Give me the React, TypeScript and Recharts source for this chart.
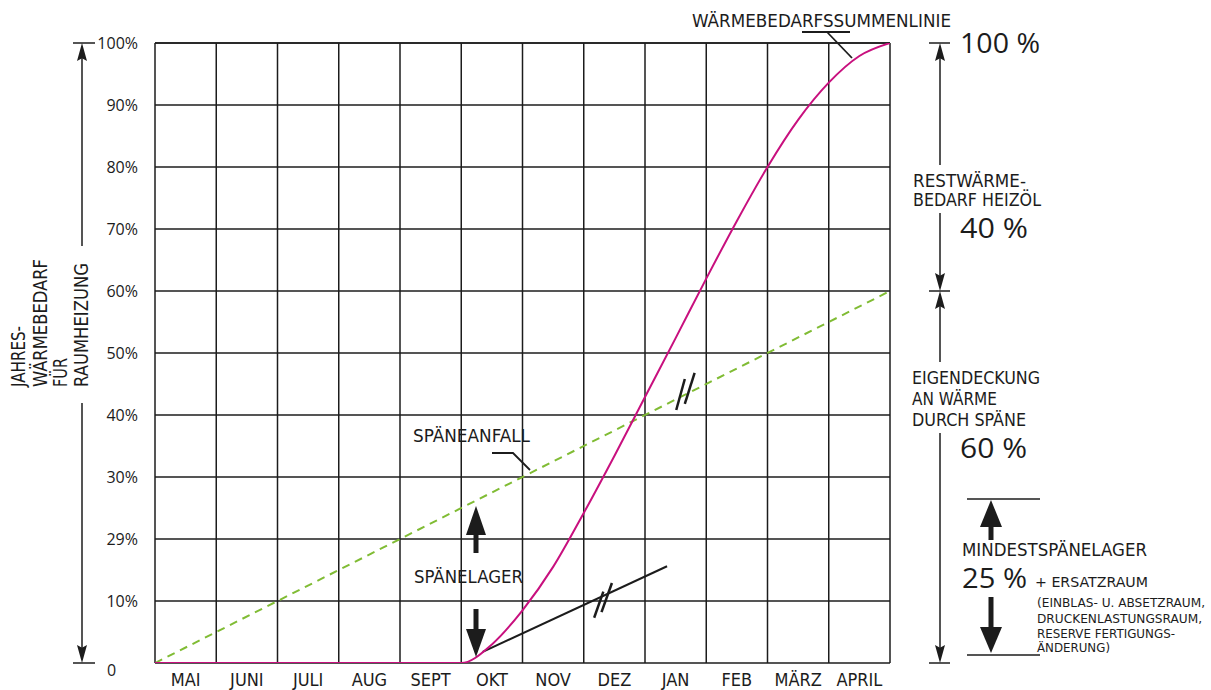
import React from "react";
import { LineChart, Line, XAxis, YAxis, CartesianGrid, ReferenceLine } from "recharts";

// ---------- data ----------
const months = ["MAI", "JUNI", "JULI", "AUG", "SEPT", "OKT", "NOV", "DEZ", "JAN", "FEB", "MÄRZ", "APRIL"];
const monthBoundaries = [0, 1, 2, 3, 4, 5, 6, 7, 8, 9, 10, 11, 12];
const monthCenters = [0.5, 1.5, 2.5, 3.5, 4.5, 5.5, 6.5, 7.5, 8.5, 9.5, 10.5, 11.5];
const yTickValues = [0, 10, 20, 30, 40, 50, 60, 70, 80, 90, 100];
const yTickLabels = ["0", "10%", "29%", "30%", "40%", "50%", "60%", "70%", "80%", "90%", "100%"];

// Wärmebedarfssummenlinie (cumulative heat demand, %)
const heatX = [0, 1, 2, 3, 4, 5, 5.5, 6, 6.5, 7, 7.5, 8, 8.5, 9, 9.5, 10, 10.5, 11, 11.5, 12];
const heatY = [0, 0, 0, 0, 0, 0, 3.0, 8.5, 15.5, 24.2, 33.4, 42.9, 52.4, 62, 71.3, 80, 87.6, 93.6, 97.9, 100];

// Späneanfall (chip yield, %)
const chipX = [0, 12];
const chipY = [0, 60];

// Späneverbrauch ab Oktober (tangent line)
const tangentX = [5.35, 8.36];
const tangentY = [1.8, 15.6];

// "//" marks (break symbols)
const slashTangent = [
  [[7.17, 7.3], [7.32, 11.5]],
  [[7.29, 8.2], [7.46, 12.9]],
];
const slashChip = [
  [[8.51, 40.8], [8.65, 45.8]],
  [[8.65, 41.8], [8.81, 46.8]],
];

const heatData = heatX.map((m, i) => ({ m, v: heatY[i] }));
const chipData = chipX.map((m, i) => ({ m, v: chipY[i] }));
const tangentData = tangentX.map((m, i) => ({ m, v: tangentY[i] }));

// ---------- styles ----------
const NARROW = '"Liberation Sans Narrow", "Arial Narrow", "DejaVu Sans Condensed", sans-serif';
const SANS = '"Open Sans", "Noto Sans", sans-serif';
const INK = "#1c1c1c";
const MAGENTA = "#c8107e";
const GREEN = "#80bc34";
const DIVIDER = 27;

type TProps = { x: number; y: number; w?: number; size: number; font?: string; children: React.ReactNode; anchor?: "start" | "middle" | "end"; weight?: number };
const T = ({ x, y, w, size, font = NARROW, children, anchor = "start", weight = 400 }: TProps) => (
  <text
    x={x}
    y={y}
    fontSize={size}
    fontFamily={font}
    fontWeight={weight}
    fill={INK}
    textAnchor={anchor}
    {...(w ? { textLength: w, lengthAdjust: "spacingAndGlyphs" } : {})}
  >
    {children}
  </text>
);

const ArrowUp = ({ x, tip, base, hw }: { x: number; tip: number; base: number; hw: number }) => (
  <polygon points={`${x},${tip} ${x - hw},${base} ${x},${base - (base - tip) * 0.15} ${x + hw},${base}`} fill={INK} />
);
const ArrowDown = ({ x, tip, base, hw }: { x: number; tip: number; base: number; hw: number }) => (
  <polygon points={`${x},${tip} ${x - hw},${base} ${x},${base + (tip - base) * 0.15} ${x + hw},${base}`} fill={INK} />
);
const BigArrowUp = ({ x, tip, base, end, hw, sw }: { x: number; tip: number; base: number; end: number; hw: number; sw: number }) => (
  <g fill={INK}>
    <polygon points={`${x},${tip} ${x - hw},${base} ${x + hw},${base}`} />
    <rect x={x - sw / 2} y={base - 1} width={sw} height={end - base + 1} />
  </g>
);
const BigArrowDown = ({ x, tip, base, start, hw, sw }: { x: number; tip: number; base: number; start: number; hw: number; sw: number }) => (
  <g fill={INK}>
    <polygon points={`${x},${tip} ${x - hw},${base} ${x + hw},${base}`} />
    <rect x={x - sw / 2} y={start} width={sw} height={base - start + 1} />
  </g>
);

const YTick = (props: any) => {
  const { x, y, payload } = props;
  const idx = yTickValues.indexOf(payload.value);
  const label = yTickLabels[idx] ?? "";
  if (payload.value === 0) {
    return (
      <text x={x - 31} y={y + 13} fontSize={16} fontFamily={SANS} fill={INK} textAnchor="start">
        {label}
      </text>
    );
  }
  return (
    <text x={x} y={y + 5.5} fontSize={16} fontFamily={SANS} fill={INK} textAnchor="end">
      {label}
    </text>
  );
};

const MonthTick = (props: any) => {
  const { x, y, payload } = props;
  const idx = monthCenters.indexOf(payload.value);
  return (
    <text x={x} y={y + 23} fontSize={18} fontFamily={NARROW} fill={INK} textAnchor="middle">
      {months[idx] ?? ""}
    </text>
  );
};

// draws the month divider below the plot (tick y = axis y + tickSize with tickMargin 0)
const DividerTick = (props: any) => {
  const { x, y } = props;
  return <line x1={x} x2={x} y1={y - DIVIDER} y2={y} stroke={INK} strokeWidth={1.5} />;
};

export default function App() {
  return (
    <div style={{ position: "absolute", left: 0, top: 0, width: 1211, height: 690, background: "#fff" }}>
      <LineChart width={1211} height={690} margin={{ top: 43, right: 321, bottom: 0, left: 95 }}>
        <CartesianGrid stroke={INK} strokeWidth={1.5} fill="none" vertical={false} />
        <XAxis
          xAxisId={0}
          dataKey="m"
          type="number"
          domain={[0, 12]}
          ticks={monthBoundaries}
          tick={<DividerTick />}
          tickSize={DIVIDER}
          tickMargin={0}
          tickLine={{ stroke: INK, strokeWidth: 1.5 }}
          axisLine={{ stroke: INK, strokeWidth: 1.5 }}
          height={0}
          allowDataOverflow
        />
        <XAxis
          xAxisId="months"
          dataKey="m"
          type="number"
          domain={[0, 12]}
          ticks={monthCenters}
          tick={<MonthTick />}
          tickLine={false}
          axisLine={false}
          tickSize={0}
          tickMargin={0}
          height={27}
          allowDataOverflow
        />
        <YAxis
          type="number"
          domain={[0, 100]}
          ticks={yTickValues}
          tick={<YTick />}
          tickLine={false}
          axisLine={false}
          tickSize={8}
          tickMargin={9}
          width={60}
          allowDataOverflow
        />
        {monthBoundaries.map((b) => (
          <ReferenceLine key={`v${b}`} x={b} stroke={INK} strokeWidth={1.5} />
        ))}
        <ReferenceLine y={100} stroke={INK} strokeWidth={1.5} />
        <Line
          data={chipData}
          dataKey="v"
          type="linear"
          stroke={GREEN}
          strokeWidth={2}
          strokeDasharray="8 6"
          dot={false}
          isAnimationActive={false}
        />
        <Line
          data={tangentData}
          dataKey="v"
          type="linear"
          stroke={INK}
          strokeWidth={2}
          dot={false}
          isAnimationActive={false}
        />
        <Line
          data={heatData}
          dataKey="v"
          type="monotone"
          stroke={MAGENTA}
          strokeWidth={2}
          dot={false}
          isAnimationActive={false}
        />
        {[...slashTangent, ...slashChip].map((s, i) => (
          <ReferenceLine
            key={`s${i}`}
            segment={[
              { x: s[0][0], y: s[0][1] },
              { x: s[1][0], y: s[1][1] },
            ]}
            stroke={INK}
            strokeWidth={2.5}
          />
        ))}
      </LineChart>

      <svg
        width={1211}
        height={690}
        style={{ position: "absolute", left: 0, top: 0, pointerEvents: "none" }}
      >
        {/* left dimension arrow */}
        <g stroke={INK} strokeWidth={1.5}>
          <line x1={73} y1={43} x2={95} y2={43} />
          <line x1={73} y1={663} x2={95} y2={663} />
          <line x1={82} y1={56} x2={82} y2={246} />
          <line x1={82} y1={403} x2={82} y2={650} />
        </g>
        <ArrowUp x={82} tip={43} base={61} hw={5} />
        <ArrowDown x={82} tip={663} base={645} hw={5} />
        <g fontFamily={NARROW} fontSize={20} fill={INK}>
          <text transform="translate(25,387) rotate(-90)" textLength={61} lengthAdjust="spacingAndGlyphs">JAHRES-</text>
          <text transform="translate(47,387) rotate(-90)" textLength={128} lengthAdjust="spacingAndGlyphs">WÄRMEBEDARF</text>
          <text transform="translate(67,387) rotate(-90)" textLength={29} lengthAdjust="spacingAndGlyphs">FÜR</text>
          <text transform="translate(88,387) rotate(-90)" textLength={124} lengthAdjust="spacingAndGlyphs">RAUMHEIZUNG</text>
        </g>

        {/* title leader */}
        <T x={692} y={27} w={259} size={17}>WÄRMEBEDARFSSUMMENLINIE</T>
        <g stroke={INK} strokeWidth={1.8} fill="none">
          <line x1={802} y1={32} x2={850} y2={32} />
          <line x1={827} y1={32} x2={852} y2={58} />
        </g>

        {/* Späneanfall label */}
        <T x={413} y={442} w={117} size={17}>SPÄNEANFALL</T>
        <polyline points="492,453 513,453 530,470" stroke={INK} strokeWidth={1.8} fill="none" />

        {/* Spänelager */}
        <T x={414} y={583} w={109} size={17}>SPÄNELAGER</T>
        <BigArrowUp x={476} tip={506} base={535} end={553} hw={10} sw={5} />
        <BigArrowDown x={476} tip={657} base={629} start={609} hw={10} sw={5} />

        {/* right dimension arrow */}
        <g stroke={INK} strokeWidth={1.5}>
          <line x1={929} y1={43} x2={950} y2={43} />
          <line x1={929} y1={291} x2={950} y2={291} />
          <line x1={929} y1={663} x2={950} y2={663} />
          <line x1={940} y1={58} x2={940} y2={165} />
          <line x1={940} y1={213} x2={940} y2={276} />
          <line x1={940} y1={306} x2={940} y2={362} />
          <line x1={940} y1={433} x2={940} y2={648} />
        </g>
        <ArrowUp x={940} tip={43} base={61} hw={5} />
        <ArrowDown x={940} tip={291} base={273} hw={5} />
        <ArrowUp x={940} tip={291} base={309} hw={5} />
        <ArrowDown x={940} tip={663} base={645} hw={5} />

        <T x={960} y={53} size={28} font={SANS} w={80}>100 %</T>
        <T x={913} y={187} w={113} size={17}>RESTWÄRME-</T>
        <T x={913} y={206} w={128} size={17}>BEDARF HEIZÖL</T>
        <T x={960} y={238} size={28} font={SANS} w={68}>40 %</T>

        <T x={912} y={384} w={128} size={17}>EIGENDECKUNG</T>
        <T x={912} y={405} w={85} size={17}>AN WÄRME</T>
        <T x={912} y={426} w={114} size={17}>DURCH SPÄNE</T>
        <T x={960} y={458} size={28} font={SANS} w={67}>60 %</T>

        <g stroke={INK} strokeWidth={1.5}>
          <line x1={967} y1={499} x2={1040} y2={499} />
          <line x1={967} y1={655} x2={1040} y2={655} />
        </g>
        <BigArrowUp x={991} tip={500} base={527} end={540} hw={11} sw={5} />
        <BigArrowDown x={991} tip={653} base={627} start={597} hw={11} sw={5} />
        <T x={962} y={556} w={185} size={17}>MINDESTSPÄNELAGER</T>
        <T x={962} y={588} size={27} font={SANS} w={65}>25 %</T>
        <T x={1035} y={587} w={113} size={14}>+ ERSATZRAUM</T>
        <T x={1037} y={607} w={168} size={12}>(EINBLAS- U. ABSETZRAUM,</T>
        <T x={1037} y={623} w={165} size={12}>DRUCKENLASTUNGSRAUM,</T>
        <T x={1037} y={638} w={138} size={12}>RESERVE FERTIGUNGS-</T>
        <T x={1037} y={652} w={73} size={12}>ÄNDERUNG)</T>
      </svg>
    </div>
  );
}
